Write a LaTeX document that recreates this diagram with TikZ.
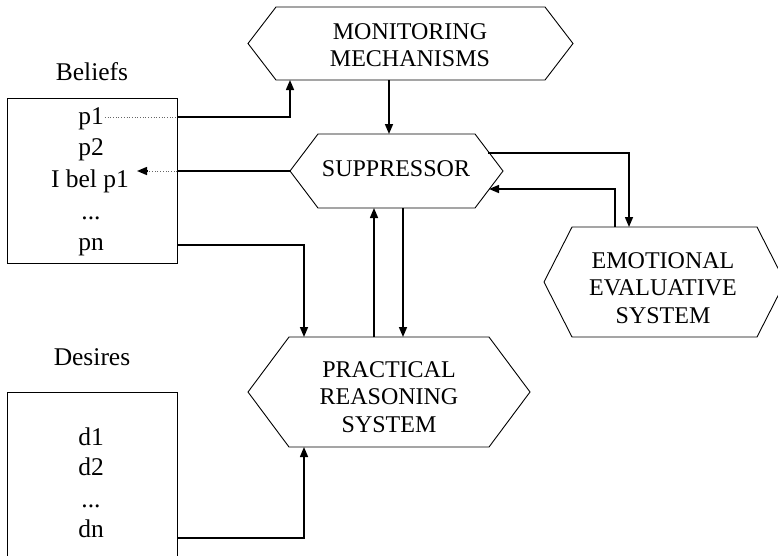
\documentclass[tikz,border=0pt]{standalone}
\usepackage{fontspec}
\setmainfont{Liberation Serif}
\usetikzlibrary{arrows.meta,calc}
\newcommand\hexdraw[2]{\draw[outline] (#1.west) -- ($(#1.north west)+(#2,0)$) -- ($(#1.north east)+(-#2,0)$) -- (#1.east) -- ($(#1.south east)+(-#2,0)$) -- ($(#1.south west)+(#2,0)$) -- cycle;}
\begin{document}
\begin{tikzpicture}[x=1pt,y=-1pt,
  conn/.style={line width=1.5pt,-{Triangle[length=10pt,width=8pt]}},
  plain/.style={line width=1.5pt},
  dotline/.style={dotted, line width=0.7pt, black!60},
  area/.style={inner sep=0pt, outer sep=0pt},
  txt/.style={font=\fontsize{24}{27.5}\selectfont, align=center, inner sep=1pt},
  ltxt/.style={font=\fontsize{25.5}{28}\selectfont, align=center, inner sep=1pt},
  outline/.style={line width=0.9pt}]
\useasboundingbox (0,0) rectangle (778,555);
% shapes
\node[area, minimum width=325, minimum height=73] (mon) at (410.5,43.5) {};
\node[area, minimum width=213, minimum height=74] (sup) at (396.5,171) {};
\node[area, minimum width=241, minimum height=110] (emo) at (664.5,282) {};
\node[area, minimum width=282, minimum height=110] (prac) at (389,392) {};
\hexdraw{mon}{28}
\hexdraw{sup}{28}
\hexdraw{emo}{28}
\hexdraw{prac}{41}
\node[txt] (monT) at (410,45) {MONITORING\\MECHANISMS};
\node[txt] (supT) at (396,169) {SUPPRESSOR};
\node[txt] (emoT) at (663,288) {EMOTIONAL\\EVALUATIVE\\SYSTEM};
\node[txt] (pracT) at (389,397) {PRACTICAL\\REASONING\\SYSTEM};
% belief box
\node[draw, outline, area, minimum width=170, minimum height=165] (bel) at (92,180.5) {};
\node[ltxt, anchor=base] (belT) at (92,80) {Beliefs};
\node[ltxt, anchor=base] (p1) at (91,124) {p1};
\node[ltxt, anchor=base] (p2) at (91,155) {p2};
\node[ltxt, anchor=base] (ibel) at (90,187) {I bel p1};
\node[ltxt, anchor=base] (bdots) at (91,219) {...};
\node[ltxt, anchor=base] (pn) at (91,250) {pn};
% desires box
\node[area, minimum width=170, minimum height=170] (des) at (92,477) {};
\draw[outline] (des.south west) |- (des.north east) -- (des.south east);
\node[ltxt, anchor=base] (desT) at (92,365) {Desires};
\node[ltxt, anchor=base] (d1) at (91,445) {d1};
\node[ltxt, anchor=base] (d2) at (91,475) {d2};
\node[ltxt, anchor=base] (ddots) at (91,507) {...};
\node[ltxt, anchor=base] (dn) at (91,537) {dn};
% connector points
\coordinate (c1) at (177,117);
\coordinate (c2) at (177,171);
\coordinate (c3) at (147,171);
\coordinate (ibelTip) at (137,171);
\coordinate (c4) at (177,245);
\coordinate (c5) at (177,538);
% connectors
\draw[dotline] (p1.east |- c1) -- (c1);
\draw[conn] (c1) -| ($(mon.south west)+(42,0)$);
\draw[conn] ($(mon.south west)+(141,0)$) -- ($(sup.north west)+(99,0)$);
\draw[plain] (sup.west) -- (c2);
\draw[dotline] (c2) -- (c3);
\draw[conn] (c3) -- (ibelTip);
\draw[conn] (c4) -| ($(prac.north west)+(56,0)$);
\draw[conn] ($(prac.north west)+(126,0)$) -- ($(sup.south west)+(84,0)$);
\draw[conn] ($(sup.south west)+(113,0)$) -- ($(prac.north west)+(155,0)$);
\draw[conn] (488,153) -| ($(emo.north west)+(85,0)$);
\draw[conn] ($(emo.north west)+(71,0)$) |- (489,189);
\draw[conn] (c5) -| ($(prac.south west)+(56,0)$);
\end{tikzpicture}
\end{document}
